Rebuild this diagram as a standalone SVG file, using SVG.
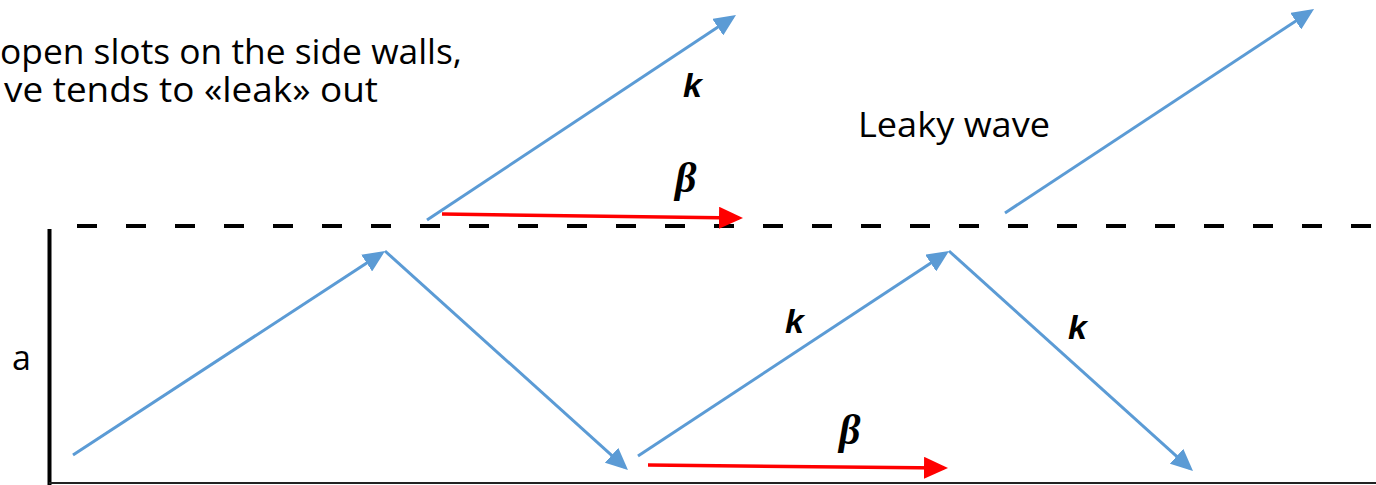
<svg xmlns="http://www.w3.org/2000/svg" width="1376" height="485" viewBox="0 0 1376 485">
<style>
.txt{font-family:"Open Sans","Liberation Sans",Arial,sans-serif;font-size:34px;fill:#000}
.k{font-family:"Liberation Sans",Arial,sans-serif;font-size:34px;font-weight:bold;font-style:italic;fill:#000}
.beta{font-family:"Liberation Serif","DejaVu Serif",serif;font-size:42px;font-weight:bold;font-style:italic;fill:#000}
.blue{stroke:#5B9BD5;stroke-width:3;fill:none;marker-end:url(#ab)}
.red{stroke:#FF0000;stroke-width:3.5;fill:none;marker-end:url(#ar)}
</style>
<defs>
<marker id="ab" markerUnits="userSpaceOnUse" markerWidth="22" markerHeight="20" refX="18" refY="10" orient="auto"><path d="M0,0 L22,10 L0,20 z" fill="#5B9BD5"/></marker>
<marker id="ar" markerUnits="userSpaceOnUse" markerWidth="24" markerHeight="22" refX="20" refY="11" orient="auto"><path d="M0,0 L24,11 L0,22 z" fill="#FF0000"/></marker>
</defs>
<rect width="1376" height="485" fill="#fff"/>
<g id="walls">
<line x1="77" y1="226" x2="1376" y2="226" stroke="#000" stroke-width="4" stroke-dasharray="20 29"/>
<line x1="49.5" y1="229" x2="49.5" y2="485" stroke="#000" stroke-width="4"/>
<line x1="49" y1="483" x2="1376" y2="483" stroke="#222" stroke-width="2"/>
</g>
<g id="connectors">
<line class="blue" x1="73" y1="455" x2="381.7" y2="253.2"/>
<line class="blue" x1="385" y1="251" x2="625" y2="467.3"/>
<line class="blue" x1="638" y1="456" x2="945.7" y2="253.2"/>
<line class="blue" x1="949" y1="251" x2="1190" y2="468.3"/>
<line class="blue" x1="427" y1="220" x2="732.7" y2="17.2"/>
<line class="blue" x1="1005" y1="213" x2="1310.7" y2="11.2"/>
<line class="red" x1="442" y1="214" x2="739" y2="218"/>
<line class="red" x1="648" y1="465" x2="944" y2="468"/>
</g>
<g id="caption">
<text class="txt" x="0" y="64" textLength="462" lengthAdjust="spacingAndGlyphs">open slots on the side walls,</text>
<text class="txt" x="4" y="102" textLength="374" lengthAdjust="spacingAndGlyphs">ve tends to «leak» out</text>
</g>
<g id="label-leaky"><text class="txt" x="858" y="137" textLength="192" lengthAdjust="spacingAndGlyphs">Leaky wave</text></g>
<g id="label-a"><text class="txt" x="12" y="370">a</text></g>
<g id="label-k1"><text class="k" x="683" y="97">k</text></g>
<g id="label-beta1"><text class="beta" x="675" y="192">β</text></g>
<g id="label-k2"><text class="k" x="785" y="333">k</text></g>
<g id="label-k3"><text class="k" x="1068" y="339">k</text></g>
<g id="label-beta2"><text class="beta" x="839" y="444">β</text></g>
</svg>
